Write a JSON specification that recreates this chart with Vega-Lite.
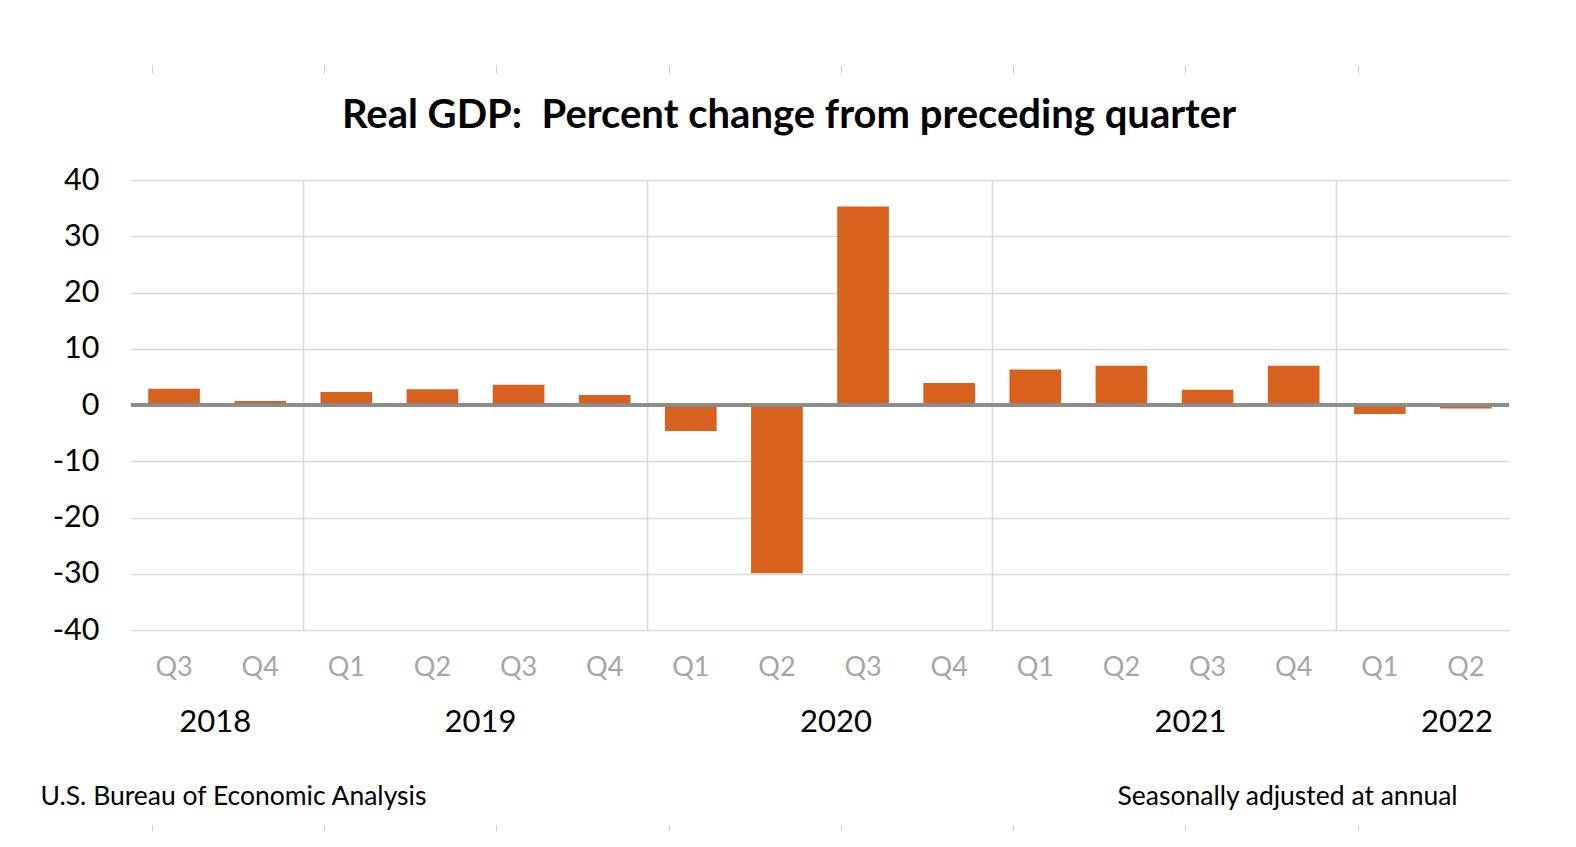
{
  "$schema": "https://vega.github.io/schema/vega-lite/v6.json",
  "width": 1378,
  "height": 450,
  "autosize": {"type": "none"},
  "padding": {"left": 131, "top": 180, "right": 67, "bottom": 217},
  "background": "white",
  "config": {"font": "Lato", "view": {"stroke": null}},
  "title": {
    "text": "Real GDP:\u00a0 Percent change from preceding quarter",
    "font": "Lato",
    "fontSize": 40,
    "fontWeight": "bold",
    "color": "#000000",
    "anchor": "middle",
    "offset": -71,
    "dx": -31
  },
  "data": {
    "values": [
      {"key": "2018 Q3", "value": 2.9},
      {"key": "2018 Q4", "value": 0.7},
      {"key": "2019 Q1", "value": 2.3},
      {"key": "2019 Q2", "value": 2.8},
      {"key": "2019 Q3", "value": 3.6},
      {"key": "2019 Q4", "value": 1.8},
      {"key": "2020 Q1", "value": -4.6},
      {"key": "2020 Q2", "value": -29.9},
      {"key": "2020 Q3", "value": 35.3},
      {"key": "2020 Q4", "value": 3.9},
      {"key": "2021 Q1", "value": 6.3},
      {"key": "2021 Q2", "value": 7.0},
      {"key": "2021 Q3", "value": 2.7},
      {"key": "2021 Q4", "value": 7.0},
      {"key": "2022 Q1", "value": -1.6},
      {"key": "2022 Q2", "value": -0.6}
    ]
  },
  "resolve": {"axis": {"x": "independent"}},
  "layer": [
    {
      "mark": {"type": "bar", "color": "#D8611D"},
      "encoding": {
        "x": {
          "field": "key",
          "type": "nominal",
          "sort": null,
          "scale": {"paddingInner": 0.4, "paddingOuter": 0.2},
          "axis": {
            "orient": "bottom",
            "title": "U.S. Bureau of Economic Analysis",
            "titleFont": "Lato",
            "titleFontSize": 26.5,
            "titleFontWeight": "normal",
            "titleColor": "#000000",
            "titleAnchor": "start",
            "titleAlign": "left",
            "titleBaseline": "middle",
            "titleX": -91,
            "titleY": 166,
            "labelExpr": "split(datum.value, ' ')[1]",
            "labelAngle": 0,
            "labelFontSize": 27,
            "labelColor": "#a6a6a6",
            "labelPadding": 24,
            "ticks": false,
            "domain": false,
            "grid": false
          }
        },
        "y": {
          "field": "value",
          "type": "quantitative",
          "scale": {"domain": [-40, 40]},
          "axis": {
            "values": [-40, -30, -20, -10, 0, 10, 20, 30, 40],
            "labelExpr": "'' + datum.value",
            "title": "Seasonally adjusted at annual",
            "titleFont": "Lato",
            "titleFontSize": 26.5,
            "titleFontWeight": "normal",
            "titleColor": "#000000",
            "titleAngle": 0,
            "titleAlign": "left",
            "titleBaseline": "middle",
            "titleX": 986,
            "titleY": 616,
            "labelFontSize": 30.5,
            "labelColor": "#000000",
            "labelPadding": 32,
            "ticks": false,
            "domain": false,
            "gridColor": "#d9d9d9",
            "gridWidth": 1.5
          }
        }
      }
    },
    {
      "mark": {"type": "point", "opacity": 0},
      "encoding": {
        "x": {
          "field": "key",
          "type": "nominal",
          "sort": null,
          "axis": {
            "orient": "bottom",
            "title": null,
            "values": ["2018 Q4", "2019 Q3", "2020 Q3", "2021 Q3", "2022 Q2"],
            "labelExpr": "split(datum.value, ' ')[0]",
            "labelAngle": 0,
            "labelOffset": {
              "condition": [
                {"test": "datum.value == '2018 Q4'", "value": -45},
                {"test": "datum.value == '2019 Q3'", "value": -38},
                {"test": "datum.value == '2021 Q3'", "value": -17},
                {"test": "datum.value == '2022 Q2'", "value": -9}
              ],
              "value": -27
            },
            "labelFontSize": 31,
            "labelColor": "#000000",
            "labelPadding": 77,
            "ticks": false,
            "domain": false,
            "grid": false
          }
        }
      }
    },
    {
      "mark": {"type": "point", "opacity": 0},
      "encoding": {
        "x": {
          "field": "key",
          "type": "nominal",
          "sort": null,
          "axis": {
            "orient": "bottom",
            "title": null,
            "values": ["2019 Q1", "2020 Q1", "2021 Q1", "2022 Q1"],
            "bandPosition": -0.3333,
            "labels": false,
            "ticks": false,
            "domain": false,
            "grid": true,
            "gridColor": "#d9d9d9",
            "gridWidth": 1.5
          }
        }
      }
    },
    {
      "mark": {"type": "point", "opacity": 0},
      "encoding": {
        "x": {
          "field": "key",
          "type": "nominal",
          "sort": null,
          "axis": {
            "orient": "top",
            "title": null,
            "offset": 107,
            "values": ["2018 Q3", "2019 Q1", "2019 Q3", "2020 Q1", "2020 Q3", "2021 Q1", "2021 Q3", "2022 Q1"],
            "bandPosition": 0.08,
            "labels": false,
            "ticks": true,
            "tickSize": 8,
            "tickColor": "#cccccc",
            "tickWidth": 1,
            "domain": false,
            "grid": false
          }
        }
      }
    },
    {
      "mark": {"type": "point", "opacity": 0},
      "encoding": {
        "x": {
          "field": "key",
          "type": "nominal",
          "sort": null,
          "axis": {
            "orient": "bottom",
            "title": null,
            "offset": 195,
            "values": ["2018 Q3", "2019 Q1", "2019 Q3", "2020 Q1", "2020 Q3", "2021 Q1", "2021 Q3", "2022 Q1"],
            "bandPosition": 0.08,
            "labels": false,
            "ticks": true,
            "tickSize": 6,
            "tickColor": "#cccccc",
            "tickWidth": 1,
            "domain": false,
            "grid": false
          }
        }
      }
    },
    {
      "mark": {"type": "rule", "color": "#8c8c8c", "strokeWidth": 2.5},
      "encoding": {"y": {"datum": 0}}
    }
  ]
}
